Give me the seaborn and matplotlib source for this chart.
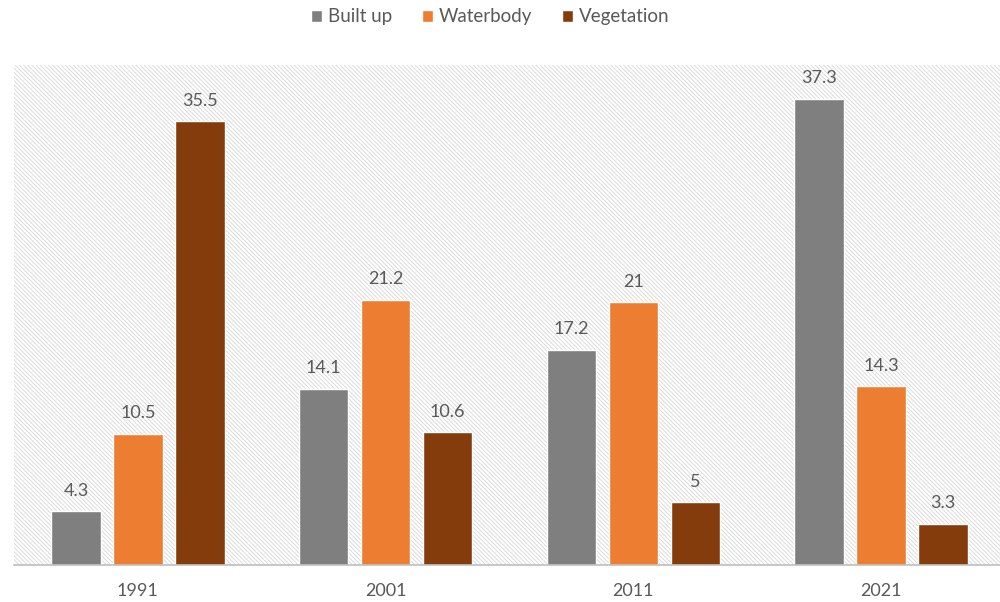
import pandas as pd
import matplotlib.pyplot as plt
import seaborn as sns
from matplotlib.patches import Rectangle

years = ["1991", "2001", "2011", "2021"]
classes = ["Built up", "Waterbody", "Vegetation"]
built_up = [4.3, 14.1, 17.2, 37.3]
waterbody = [10.5, 21.2, 21.0, 14.3]
vegetation = [35.5, 10.6, 5.0, 3.3]
colors = ["#7F7F7F", "#ED7D31", "#843C0C"]

rows = []
for cls, vals in zip(classes, [built_up, waterbody, vegetation]):
    for yr, v in zip(years, vals):
        rows.append({"year": yr, "class": cls, "value": v})
df = pd.DataFrame(rows)

sns.set_theme(style="white")
plt.rcParams["font.family"] = ["Lato", "DejaVu Sans"]
plt.rcParams["hatch.linewidth"] = 0.6

fig = plt.figure(figsize=(10, 6.02), dpi=100)
ax = fig.add_axes([0.014, 0.0615, 0.986, 0.8305])

# hatched plot-area background
ax.add_patch(Rectangle((0, 0), 1, 1, transform=ax.transAxes, facecolor="white",
                       edgecolor="#D6D6D6", hatch="\\" * 8, lw=0, zorder=0))

sns.barplot(data=df, x="year", y="value", hue="class", order=years,
            hue_order=classes, palette=colors, width=0.75, gap=0.2,
            saturation=1, ax=ax, zorder=2)

for cont in ax.containers:
    labels = [f"{v:g}" for v in cont.datavalues]
    ax.bar_label(cont, labels=labels, padding=9, color="#595959", fontsize=13)

ax.set_ylim(0, 40)
ax.set_xlim(-0.5, 3.48)
ax.set_xlabel("")
ax.set_ylabel("")
ax.set_yticks([])
ax.tick_params(axis="x", length=0, pad=13, labelsize=13, labelcolor="#595959")
for side in ["left", "right", "top"]:
    ax.spines[side].set_visible(False)
ax.spines["bottom"].set_color("#BFBFBF")
ax.spines["bottom"].set_linewidth(1.2)

handles, labs = ax.get_legend_handles_labels()
ax.legend_.remove()
fig.legend(handles, labs, loc="center", bbox_to_anchor=(0.49, 0.972), ncol=3,
           frameon=False, fontsize=13.5, labelcolor="#595959", handlelength=0.6,
           handleheight=0.6, handletextpad=0.3, columnspacing=1.6)

fig.savefig("out.png", dpi=100)
